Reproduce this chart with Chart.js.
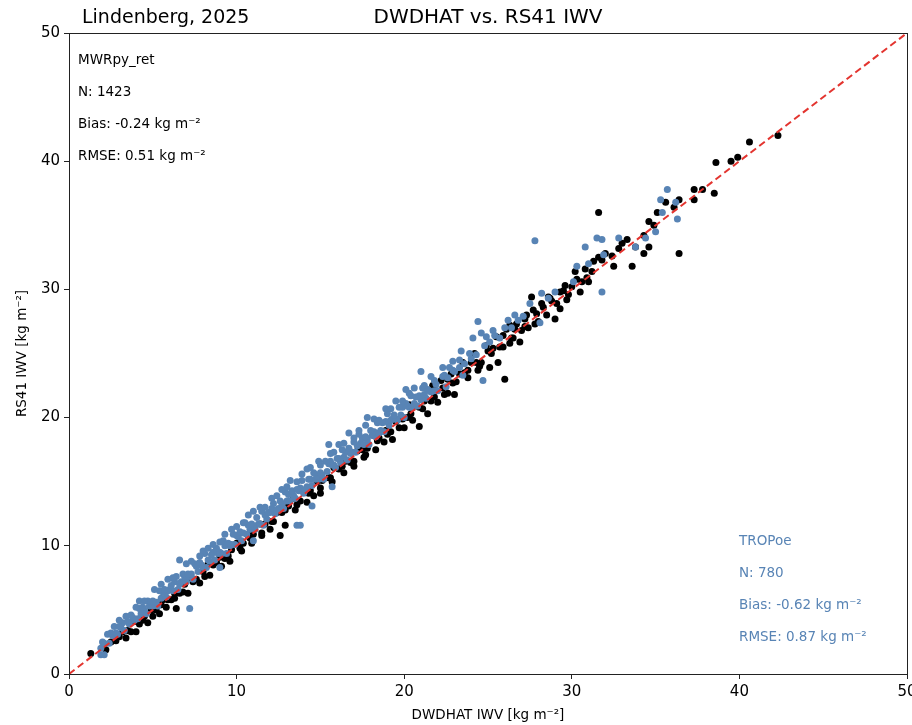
<!DOCTYPE html>
<html>
<head>
<meta charset="utf-8">
<title>DWDHAT vs. RS41 IWV</title>
<script src="https://cdn.jsdelivr.net/npm/chart.js@4.4.1/dist/chart.umd.min.js"></script>
<style>
  html, body { margin: 0; padding: 0; background: #fff; }
</style>
</head>
<body>
<canvas id="iwv" width="912" height="725"></canvas>
<script>
// axis ticks (kg m-2), same for both axes
var axisTicks = [0, 10, 20, 30, 40, 50];

// MWRpy_ret vs radiosonde (black)
var mwrX = [
  1.3, 2.5, 2.8, 3.2, 3.5, 3.9, 4.2, 4.5, 4.9, 5.2,
  5.6, 5.9, 6.3, 6.6, 6.9, 7.3, 7.6, 8.0, 8.3, 8.6,
  9.0, 9.3, 9.7, 10.0, 10.4, 10.7, 11.0, 11.4, 11.7, 12.1,
  12.4, 12.7, 13.1, 13.4, 13.8, 14.1, 14.4, 14.8, 15.1, 15.5,
  15.8, 16.1, 16.5, 16.8, 17.2, 17.5, 17.8, 18.2, 18.5, 18.9,
  19.2, 19.5, 19.9, 20.2, 20.6, 20.9, 21.2, 21.6, 21.9, 22.3,
  22.6, 22.9, 23.3, 23.6, 24.0, 24.3, 24.6, 25.0, 25.3, 25.7,
  2.2, 3.0, 3.7, 4.4, 5.0, 5.5, 6.1, 6.8, 7.4, 8.1,
  8.8, 9.5, 10.2, 10.8, 11.5, 12.2, 12.9, 13.6, 14.3, 15.0,
  15.6, 16.3, 17.0, 17.7, 18.4, 19.0, 19.7, 20.4, 21.1, 21.8,
  22.4, 23.1, 23.8, 24.5, 25.2, 25.9, 26.5, 27.2,
  3.4, 4.0, 4.7, 5.4, 5.8, 6.3, 6.4, 7.1, 7.8, 8.4,
  9.1, 9.6, 10.3, 10.9, 11.5, 12.0, 12.6, 12.9, 13.5, 14.2,
  14.6, 15.0, 15.7, 16.4, 17.0, 17.6, 18.3, 18.8, 19.3, 20.0,
  20.5, 20.9, 21.4, 22.0, 22.6, 23.0, 23.8, 24.4, 25.1, 25.6, 26.0,
  20.3, 21.0, 21.7, 22.2, 22.8, 23.5, 24.2, 24.9, 25.5, 26.3, 27.7, 28.6,
  25.9, 26.3, 26.6, 27.3, 27.8, 28.2, 28.7, 29.1, 29.5, 30.3, 30.8, 31.3,
  26.1, 26.4, 26.7, 27.0, 27.2, 27.6, 27.9, 28.3, 28.5, 28.8,
  29.0, 29.3, 29.3, 29.6, 29.7, 30.0, 30.2, 30.5, 30.6, 30.9,
  31.2, 31.6, 31.6, 31.8, 32.0, 32.4, 32.5, 32.8, 33.0, 33.3,
  33.6, 33.8, 34.3, 34.3, 34.6, 34.6, 34.9, 35.1, 35.6, 36.1,
  36.4, 36.4, 37.3, 37.3, 37.8, 38.5, 38.6, 39.5, 39.9, 40.6,
  42.3, 28.0, 29.8, 31.0, 26.9, 27.4
];
var mwrY = [
  1.6, 2.5, 2.6, 3.3, 3.4, 4.1, 3.9, 4.5, 5.0, 5.0,
  5.8, 5.8, 6.3, 6.3, 7.0, 7.5, 7.4, 8.0, 8.6, 8.5,
  9.1, 9.0, 9.7, 10.2, 10.2, 10.8, 10.9, 11.7, 11.7, 11.9,
  12.6, 12.6, 13.1, 13.7, 13.5, 14.2, 14.3, 15.0, 15.1, 15.3,
  16.1, 16.0, 16.6, 16.5, 17.4, 17.5, 17.6, 18.6, 18.4, 19.0,
  18.9, 19.7, 19.9, 20.0, 20.9, 20.8, 21.3, 21.3, 22.1, 22.3,
  23.0, 22.7, 23.4, 23.5, 24.3, 24.3, 24.3, 25.2, 25.4, 25.5,
  1.9, 2.9, 3.3, 4.2, 4.5, 5.4, 5.8, 6.4, 7.2, 7.6,
  8.7, 9.2, 9.8, 10.6, 11.0, 11.9, 12.8, 13.2, 14.1, 14.5,
  15.3, 16.2, 16.6, 17.1, 18.2, 18.7, 19.2, 20.3, 20.7, 21.6,
  21.8, 22.8, 23.7, 24.0, 25.0, 25.5, 26.2, 27.1,
  2.8, 3.3, 4.0, 4.7, 5.2, 5.9, 5.1, 6.3, 7.1, 7.7,
  8.4, 8.8, 9.6, 10.2, 10.8, 11.3, 10.8, 11.6, 12.8, 13.4,
  13.9, 14.1, 15.0, 15.7, 16.2, 16.9, 17.5, 18.1, 18.3, 19.2,
  19.8, 19.3, 20.3, 21.2, 21.9, 21.8, 23.1, 23.7, 23.9, 24.3, 23.0,
  21.0, 21.6, 22.5, 22.9, 23.4, 24.3, 25.0, 25.6, 26.3, 27.2, 28.4, 29.4,
  26.4, 25.8, 26.9, 28.0, 27.3, 28.9, 29.3, 28.9, 29.9, 30.8, 31.6, 32.2,
  26.9, 26.2, 27.3, 26.8, 27.7, 29.4, 28.1, 28.6, 28.0, 29.1,
  27.7, 28.5, 29.8, 30.3, 29.2, 30.2, 31.4, 29.8, 30.6, 30.9,
  31.4, 36.0, 32.5, 32.3, 32.8, 32.6, 31.8, 33.2, 33.6, 33.9,
  31.8, 33.3, 34.2, 32.8, 35.3, 33.3, 35.0, 36.0, 36.8, 36.4,
  37.0, 32.8, 37.8, 37.0, 37.8, 37.5, 39.9, 40.0, 40.3, 41.5,
  42.0, 27.5, 29.6, 30.6, 25.9, 27.0
];

// TROPoe vs radiosonde (blue)
var tropX = [
  1.9, 2.1, 2.4, 2.6, 2.9, 3.1, 3.3, 3.6, 3.8, 4.1,
  4.3, 4.6, 4.8, 5.0, 5.3, 5.5, 5.8, 6.0, 6.2, 6.5,
  6.7, 7.0, 7.2, 7.4, 7.7, 7.9, 8.2, 8.4, 8.7, 8.9,
  9.1, 9.4, 9.6, 9.9, 10.1, 10.3, 10.6, 10.8, 11.1, 11.3,
  11.6, 11.8, 12.0, 12.3, 12.5, 12.8, 13.0, 13.2, 13.5, 13.7,
  14.0, 14.2, 14.5, 14.7, 14.9, 15.2, 15.4, 15.7, 15.9, 16.2,
  16.4, 16.6, 16.9, 17.1, 17.4, 17.6, 17.9, 18.1, 18.3, 18.6,
  18.8, 19.1, 19.3, 19.6, 19.8, 20.0, 20.3, 20.5, 20.8, 21.0,
  21.3, 21.5, 21.8, 22.0,
  2.0, 2.5, 2.8, 3.2, 3.5, 3.9, 4.2, 4.5, 4.9, 5.2,
  5.6, 5.9, 6.3, 6.6, 6.9, 7.3, 7.6, 8.0, 8.3, 8.6,
  9.0, 9.3, 9.7, 10.0, 10.4, 10.7, 11.0, 11.4, 11.7, 12.1,
  12.4, 12.7, 13.1, 13.4, 13.8, 14.1, 14.4, 14.8, 15.1, 15.5,
  15.8, 16.1, 16.5, 16.8, 17.2, 17.5, 17.8, 18.2, 18.5, 18.9,
  19.2, 19.5, 19.9, 20.2, 20.6, 20.9, 21.2, 21.6, 21.9, 22.3,
  22.6, 22.9, 23.3,
  2.3, 2.7, 3.0, 3.4, 3.7, 4.0, 4.4, 4.7, 5.0, 5.4,
  5.7, 6.1, 6.4, 6.8, 7.1, 7.5, 7.8, 8.1, 8.5, 8.8,
  9.2, 9.5, 9.8, 10.2, 10.5, 10.9, 11.2, 11.5, 11.9, 12.2,
  12.6, 12.9, 13.3, 13.6, 13.9, 14.3, 14.6, 15.0, 15.3, 15.6,
  16.0, 16.3, 16.7, 17.0, 17.3, 17.7, 18.0, 18.4, 18.7, 19.0,
  19.4, 19.7, 20.1, 20.4, 20.7, 21.1, 21.4, 21.8,
  3.0, 4.2, 5.1, 5.9, 7.3, 8.0, 8.6, 9.3, 10.0, 10.7,
  11.4, 12.1, 12.7, 14.4, 14.9, 16.1, 17.3, 18.2, 18.9, 19.5,
  20.6, 21.6, 22.3,
  4.5, 5.5, 6.2, 7.0, 7.8, 8.3, 9.0, 9.7, 10.4, 11.0,
  11.7, 12.4, 13.0, 13.6, 14.2, 15.0, 15.8, 16.4, 17.0, 17.7,
  18.5, 19.2, 19.9, 20.3, 21.2,
  6.6, 13.9, 13.2, 15.5, 15.6, 16.7, 17.8, 20.1, 21.0,
  7.2, 1.9, 2.1, 14.5, 13.6, 13.8, 15.7, 9.0, 11.0,
  22.9, 23.4, 24.0, 24.9, 25.3, 26.2, 26.6,
  22.4, 22.7, 23.0, 23.3, 23.6, 23.9, 24.1, 24.4, 24.6, 24.3,
  24.8, 25.1, 25.4, 25.7, 26.0, 26.4, 26.8, 27.1, 27.5, 27.8,
  28.1, 28.2, 28.6, 29.0, 30.1, 30.3, 30.8, 31.0, 31.5, 31.8,
  31.9, 31.8, 32.8, 33.8, 34.4, 35.0, 35.3, 35.4, 35.7, 36.2,
  36.3, 22.5, 23.5, 24.7
];
var tropY = [
  2.0, 2.4, 2.4, 3.0, 3.1, 3.6, 3.4, 3.9, 4.4, 4.3,
  4.7, 4.7, 5.3, 5.3, 5.3, 5.9, 6.0, 6.6, 6.5, 6.6,
  7.2, 7.2, 7.6, 7.4, 8.0, 8.5, 8.3, 8.8, 8.9, 9.4,
  9.4, 9.4, 10.0, 10.1, 10.7, 10.4, 10.9, 11.3, 11.3, 11.7,
  11.6, 12.1, 12.6, 12.5, 12.9, 12.9, 13.5, 13.5, 13.7, 14.3,
  14.1, 14.6, 14.7, 15.2, 15.2, 15.2, 15.8, 16.3, 16.1, 16.5,
  16.9, 16.7, 17.3, 17.3, 18.0, 17.9, 17.9, 18.6, 18.5, 19.0,
  18.9, 19.4, 19.9, 19.8, 20.2, 20.0, 20.8, 20.8, 20.9, 21.4,
  21.5, 22.1, 22.1, 22.1,
  2.5, 3.2, 3.2, 4.0, 4.1, 4.2, 5.1, 5.0, 5.6, 5.6,
  6.4, 6.5, 7.2, 7.0, 7.6, 7.8, 8.4, 8.3, 8.9, 9.5,
  9.5, 10.0, 10.1, 10.8, 11.0, 11.6, 11.5, 11.7, 12.4, 12.9,
  12.8, 13.3, 14.0, 13.9, 14.5, 14.4, 15.2, 15.4, 15.5, 16.4,
  16.3, 16.8, 17.3, 17.2, 17.8, 18.4, 18.3, 18.9, 18.8, 19.7,
  19.8, 19.9, 20.8, 20.9, 21.1, 21.7, 21.8, 22.0, 22.6, 23.2,
  23.1, 23.7, 23.9,
  3.1, 3.7, 3.7, 4.5, 4.6, 5.2, 5.2, 5.7, 5.7, 6.5,
  6.6, 6.9, 7.6, 7.8, 7.8, 8.6, 8.7, 9.4, 9.3, 9.8,
  10.4, 10.2, 10.9, 11.1, 11.8, 11.7, 12.2, 12.7, 12.6, 13.3,
  13.5, 14.2, 14.3, 14.4, 15.1, 15.2, 15.7, 15.7, 16.6, 16.6,
  16.8, 17.5, 17.6, 18.1, 18.7, 18.5, 19.0, 19.6, 19.6, 20.3,
  20.2, 20.8, 21.1, 21.7, 21.6, 22.3, 22.2, 22.9,
  4.2, 5.7, 6.6, 7.4, 8.8, 9.6, 10.1, 10.9, 11.5, 12.4,
  13.0, 13.7, 14.4, 16.1, 16.6, 17.9, 19.0, 19.9, 20.7, 21.3,
  22.3, 23.2, 23.9,
  5.7, 7.0, 7.5, 8.6, 9.2, 9.8, 10.3, 11.3, 11.8, 12.7,
  13.0, 13.9, 14.6, 15.0, 16.0, 16.3, 17.3, 18.0, 18.4, 19.4,
  19.8, 20.7, 21.3, 21.9, 22.5,
  8.9, 15.6, 15.1, 17.9, 17.2, 18.8, 20.0, 22.2, 23.6,
  5.1, 1.5, 1.5, 13.1, 11.6, 11.6, 14.6, 8.3, 10.4,
  24.4, 25.2, 24.6, 26.3, 26.8, 27.6, 28.0,
  23.3, 23.9, 23.6, 24.5, 24.2, 25.0, 26.2, 27.5, 26.6, 24.9,
  25.6, 25.9, 26.4, 26.2, 27.0, 27.0, 27.6, 27.9, 28.9, 33.8,
  27.4, 29.7, 29.3, 29.8, 30.6, 31.8, 33.3, 32.0, 34.0, 33.9,
  32.7, 29.8, 34.0, 33.3, 34.0, 34.5, 37.0, 36.0, 37.8, 36.8,
  35.5, 22.4, 23.3, 22.9
];

// 1:1 line end points
var diagonal = [0, 50];

var mwrStats = ['MWRpy_ret', 'N: 1423', 'Bias: -0.24 kg m\u207B\u00B2', 'RMSE: 0.51 kg m\u207B\u00B2'];
var tropStats = ['TROPoe', 'N: 780', 'Bias: -0.62 kg m\u207B\u00B2', 'RMSE: 0.87 kg m\u207B\u00B2'];

var BLUE = '#5884b5';
var FONT = '"DejaVu Sans", sans-serif';

function toPoints(xs, ys) {
  var pts = [];
  for (var i = 0; i < xs.length; i++) pts.push({ x: xs[i], y: ys[i] });
  return pts;
}

// frame, titles and stats text
var decorations = {
  id: 'decorations',
  afterDraw: function (chart) {
    var ctx = chart.ctx;
    var a = chart.chartArea;
    ctx.save();
    ctx.strokeStyle = '#222';
    ctx.lineWidth = 1;
    ctx.strokeRect(Math.round(a.left) + 0.5, Math.round(a.top) + 0.5,
      Math.round(a.right - a.left), Math.round(a.bottom - a.top));

    ctx.fillStyle = '#000';
    ctx.textBaseline = 'middle';
    ctx.font = '20px ' + FONT;
    ctx.textAlign = 'center';
    ctx.fillText('DWDHAT vs. RS41 IWV', (a.left + a.right) / 2, 18);
    ctx.font = '19px ' + FONT;
    ctx.textAlign = 'left';
    ctx.fillText('Lindenberg, 2025', 82, 18);

    ctx.font = '13.5px ' + FONT;
    mwrStats.forEach(function (t, i) {
      ctx.fillText(t, a.left + 9, 60 + i * 32);
    });
    ctx.fillStyle = BLUE;
    tropStats.forEach(function (t, i) {
      ctx.fillText(t, 739, 541 + i * 32);
    });

    // axis labels
    ctx.fillStyle = '#000';
    ctx.textAlign = 'center';
    ctx.fillText('DWDHAT IWV [kg m\u207B\u00B2]', (a.left + a.right) / 2, 715);
    ctx.translate(22, (a.top + a.bottom) / 2);
    ctx.rotate(-Math.PI / 2);
    ctx.fillText('RS41 IWV [kg m\u207B\u00B2]', 0, 0);
    ctx.restore();
  }
};

function axis(width, height) {
  return {
    type: 'linear',
    min: axisTicks[0],
    max: axisTicks[axisTicks.length - 1],
    afterBuildTicks: function (scale) {
      scale.ticks = axisTicks.map(function (v) { return { value: v }; });
    },
    afterFit: function (scale) {
      if (width) scale.width = width;
      if (height) scale.height = height;
      scale.paddingLeft = 0;
      scale.paddingRight = 0;
    },
    ticks: { color: '#000', font: { family: FONT, size: 15 }, padding: 4 },
    grid: { drawOnChartArea: false, drawTicks: true, tickLength: 5, color: '#222' },
    border: { display: true, color: '#222', width: 1 }
  };
}

var ctx = document.getElementById('iwv');
new Chart(ctx, {
  type: 'scatter',
  data: {
    datasets: [
      {
        type: 'line',
        label: '1:1',
        data: toPoints(diagonal, diagonal),
        borderColor: '#e3342f',
        borderWidth: 2,
        borderDash: [7, 4],
        pointRadius: 0,
        order: 0
      },
      {
        label: 'TROPoe',
        data: toPoints(tropX, tropY),
        backgroundColor: BLUE,
        borderWidth: 0,
        pointRadius: 3.5,
        pointHoverRadius: 3.5,
        order: 1
      },
      {
        label: 'MWRpy_ret',
        data: toPoints(mwrX, mwrY),
        backgroundColor: '#000',
        borderWidth: 0,
        pointRadius: 3.5,
        pointHoverRadius: 3.5,
        order: 2
      }
    ]
  },
  options: {
    responsive: false,
    devicePixelRatio: 1,
    animation: false,
    layout: { padding: { top: 33, right: 5, left: 0, bottom: 0 } },
    plugins: {
      legend: { display: false },
      tooltip: { enabled: false },
      title: { display: false }
    },
    scales: {
      x: axis(0, 51),
      y: axis(69, 0)
    }
  },
  plugins: [decorations]
});
</script>
</body>
</html>
